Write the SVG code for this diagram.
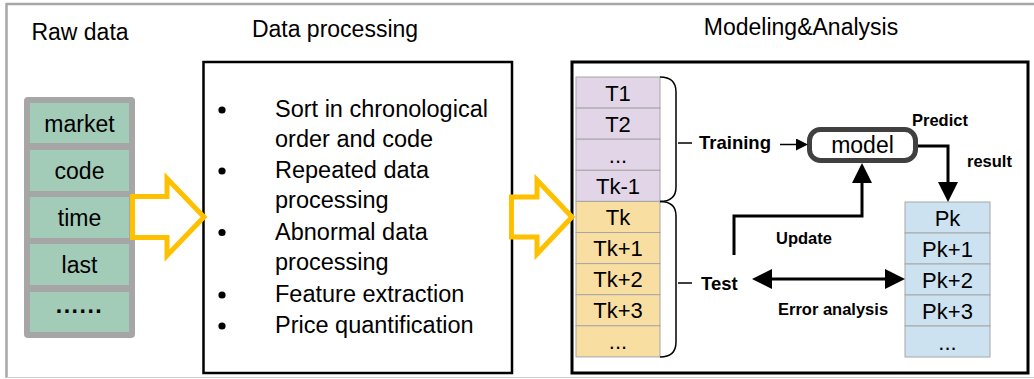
<svg xmlns="http://www.w3.org/2000/svg" width="1034" height="379" viewBox="0 0 1034 379">
<style>
text{font-family:"Liberation Sans",Arial,sans-serif;fill:#000}
.hdr{font-size:23px;text-anchor:middle}
.raw{font-size:23px;text-anchor:middle}
.dp{font-size:23.5px}
.cell{font-size:22px;text-anchor:middle}
.lbl{font-size:18.5px;font-weight:bold}
.sm{font-size:16.5px;font-weight:bold}
.yarrow{fill:#fff;stroke:#ffc000;stroke-width:5;stroke-linejoin:miter}
.tc{fill:#e1d5e7;stroke:#a6a6a6;stroke-width:1}
.oc{fill:#f9dea1;stroke:#a6a6a6;stroke-width:1}
.pc{fill:#cde2f0;stroke:#a6a6a6;stroke-width:1}
.gc{fill:#a2cbb8}
.conn{fill:none;stroke:#000;stroke-width:3}
.thin{fill:none;stroke:#000;stroke-width:1.5}
</style>
<defs>
<marker id="ah" markerUnits="userSpaceOnUse" markerWidth="20" markerHeight="20" refX="2" refY="10" orient="auto-start-reverse" viewBox="0 0 20 20"><path d="M0,0 L20,10 L0,20 z" fill="#000"/></marker>
<marker id="ahs" markerUnits="userSpaceOnUse" markerWidth="12" markerHeight="12" refX="1" refY="6" orient="auto" viewBox="0 0 12 12"><path d="M0,0 L12,6 L0,12 z" fill="#000"/></marker>
</defs>
<g id="frame">
<line x1="6" y1="4" x2="1034" y2="4" stroke="#a6a6a6" stroke-width="2.5"/>
<line x1="6.5" y1="3" x2="6.5" y2="378" stroke="#a6a6a6" stroke-width="2.5"/>
<line x1="6" y1="377.5" x2="1034" y2="377.5" stroke="#cfcfcf" stroke-width="1"/>
</g>
<g id="headers">
<text class="hdr" x="80" y="40">Raw data</text>
<text class="hdr" x="335" y="37">Data processing</text>
<text class="hdr" x="801" y="35">Modeling&amp;Analysis</text>
</g>
<g id="raw-data">
<rect x="24" y="97" width="111" height="241" rx="4" fill="#a6a6a6"/>
<rect class="gc" x="30" y="103" width="99" height="40"/>
<rect class="gc" x="30" y="150" width="99" height="41"/>
<rect class="gc" x="30" y="197" width="99" height="41"/>
<rect class="gc" x="30" y="244" width="99" height="41"/>
<rect class="gc" x="30" y="292" width="99" height="40"/>
<text class="raw" x="79.5" y="131.5">market</text>
<text class="raw" x="79.5" y="178.5">code</text>
<text class="raw" x="79.5" y="225.5">time</text>
<text class="raw" x="79.5" y="272.5">last</text>
<text class="raw" x="79.5" y="313" font-weight="bold" letter-spacing="1.5">......</text>
</g>
<g id="data-processing">
<rect x="203.5" y="62" width="308.5" height="311" fill="#fff" stroke="#000" stroke-width="2.5"/>
<circle cx="222" cy="110" r="3.6"/>
<circle cx="222" cy="171" r="3.6"/>
<circle cx="222" cy="232.5" r="3.6"/>
<circle cx="222" cy="295" r="3.6"/>
<circle cx="222" cy="326" r="3.6"/>
<text class="dp" x="275" y="117">Sort in chronological</text>
<text class="dp" x="275" y="147">order and code</text>
<text class="dp" x="275" y="178">Repeated data</text>
<text class="dp" x="275" y="208">processing</text>
<text class="dp" x="275" y="240">Abnormal data</text>
<text class="dp" x="275" y="270">processing</text>
<text class="dp" x="275" y="302">Feature extraction</text>
<text class="dp" x="275" y="333">Price quantification</text>
</g>
<g id="arrow1"><path class="yarrow" d="M132.5,196.5 H167 V178.5 L204,217 L167,255.5 V237.5 H132.5 Z"/></g>
<g id="modeling">
<rect x="572" y="62" width="456" height="311" fill="#fff" stroke="#000" stroke-width="3"/>
</g>
<g id="arrow2"><path class="yarrow" d="M511.5,197 H537 V180 L572,217 L537,254 V237 H511.5 Z"/></g>
<g id="train-set">
<rect class="tc" x="576" y="77" width="84" height="31.1"/>
<rect class="tc" x="576" y="108.1" width="84" height="31.1"/>
<rect class="tc" x="576" y="139.2" width="84" height="31.1"/>
<rect class="tc" x="576" y="170.3" width="84" height="31.1"/>
<text class="cell" x="618" y="101">T1</text>
<text class="cell" x="618" y="132">T2</text>
<text class="cell" x="618" y="163">...</text>
<text class="cell" x="618" y="194">Tk-1</text>
</g>
<g id="test-set">
<rect class="oc" x="576" y="201.4" width="84" height="31.1"/>
<rect class="oc" x="576" y="232.5" width="84" height="31.1"/>
<rect class="oc" x="576" y="263.6" width="84" height="31.1"/>
<rect class="oc" x="576" y="294.7" width="84" height="31.1"/>
<rect class="oc" x="576" y="325.8" width="84" height="31.1"/>
<text class="cell" x="618" y="225">Tk</text>
<text class="cell" x="618" y="256">Tk+1</text>
<text class="cell" x="618" y="287">Tk+2</text>
<text class="cell" x="618" y="318">Tk+3</text>
<text class="cell" x="618" y="349">...</text>
</g>
<g id="model">
<rect x="809.5" y="129.5" width="106" height="31" rx="11" fill="#fff" stroke="#404040" stroke-width="5"/>
<text x="862.5" y="153" font-size="23" text-anchor="middle">model</text>
</g>
<g id="predictions">
<rect class="pc" x="905" y="202" width="85" height="31"/>
<rect class="pc" x="905" y="233" width="85" height="31"/>
<rect class="pc" x="905" y="264" width="85" height="31"/>
<rect class="pc" x="905" y="295" width="85" height="31"/>
<rect class="pc" x="905" y="326" width="85" height="31"/>
<text class="cell" x="947.5" y="225.5">Pk</text>
<text class="cell" x="947.5" y="256.5">Pk+1</text>
<text class="cell" x="947.5" y="287.5">Pk+2</text>
<text class="cell" x="947.5" y="318.5">Pk+3</text>
<text class="cell" x="947.5" y="349.5">...</text>
</g>
<g id="connectors">
<path class="thin" d="M660,77 Q676,77 676,92 V187 Q676,201.5 660,201.5"/>
<path class="thin" d="M660,201.5 Q676,201.5 676,216 V342 Q676,357 660,357"/>
<path class="thin" d="M678,143 H692"/>
<path class="thin" d="M678,283 H692"/>
<path class="thin" d="M780,144.5 H797" marker-end="url(#ahs)"/>
<path class="conn" d="M918,146 H948 V184" marker-end="url(#ah)"/>
<path class="conn" d="M734,255 V216 H862 V181" marker-end="url(#ah)"/>
<path class="conn" d="M770,279 H887" marker-start="url(#ah)" marker-end="url(#ah)"/>
</g>
<g id="labels">
<text class="lbl" x="699" y="149">Training</text>
<text class="lbl" x="701" y="290">Test</text>
<text class="sm" x="912" y="126">Predict</text>
<text class="sm" x="967" y="167">result</text>
<text class="sm" x="776" y="244">Update</text>
<text class="sm" x="778" y="315">Error analysis</text>
</g>
</svg>
